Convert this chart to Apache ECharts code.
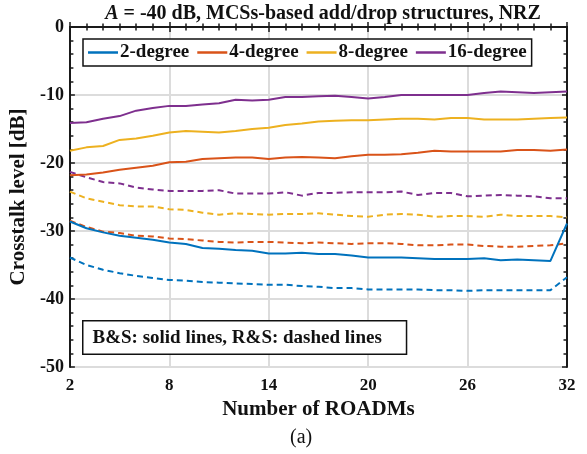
<!DOCTYPE html>
<html><head><meta charset="utf-8">
<script src="https://cdn.jsdelivr.net/npm/echarts@6/dist/echarts.min.js"></script>
<style>html,body{margin:0;padding:0;background:#fff}#c{width:587px;height:454px}</style>
</head><body><div id="c"></div>
<script>
const roadms = [2,3,4,5,6,7,8,9,10,11,12,13,14,15,16,17,18,19,20,21,22,23,24,25,26,27,28,29,30,31,32];
const seriesNames = ['2-degree','4-degree','8-degree','16-degree'];
const xTicks = [2,8,14,20,26,32];
const yTicks = [-50,-40,-30,-20,-10,0];

const bsDeg2 = [-28.6,-29.6,-30.2,-30.7,-31.0,-31.3,-31.7,-31.9,-32.5,-32.6,-32.8,-32.9,-33.3,-33.3,-33.2,-33.4,-33.4,-33.6,-33.9,-33.9,-33.9,-34.0,-34.1,-34.1,-34.1,-34.0,-34.3,-34.2,-34.3,-34.4,-28.9];
const rsDeg2 = [-33.9,-35.0,-35.7,-36.2,-36.6,-36.9,-37.2,-37.3,-37.5,-37.6,-37.7,-37.8,-37.9,-37.9,-38.1,-38.2,-38.4,-38.4,-38.6,-38.6,-38.6,-38.6,-38.7,-38.7,-38.8,-38.7,-38.7,-38.7,-38.7,-38.7,-36.8];
const bsDeg4 = [-21.8,-21.7,-21.4,-21.0,-20.7,-20.4,-19.9,-19.8,-19.4,-19.3,-19.2,-19.2,-19.4,-19.2,-19.1,-19.2,-19.3,-19.0,-18.8,-18.8,-18.7,-18.5,-18.2,-18.3,-18.3,-18.3,-18.3,-18.1,-18.1,-18.2,-18.0];
const rsDeg4 = [-28.5,-29.4,-30.1,-30.3,-30.7,-30.8,-31.1,-31.2,-31.4,-31.6,-31.7,-31.6,-31.6,-31.7,-31.8,-31.7,-31.8,-31.9,-31.8,-31.8,-31.9,-32.1,-32.1,-32.0,-32.0,-32.2,-32.3,-32.3,-32.2,-32.1,-31.8];
const bsDeg8 = [-18.2,-17.7,-17.5,-16.6,-16.4,-16.0,-15.5,-15.3,-15.4,-15.5,-15.3,-15.0,-14.8,-14.4,-14.2,-13.9,-13.8,-13.7,-13.7,-13.6,-13.5,-13.5,-13.6,-13.4,-13.4,-13.6,-13.6,-13.6,-13.5,-13.4,-13.3];
const rsDeg8 = [-24.2,-25.2,-25.7,-26.2,-26.4,-26.4,-26.8,-26.9,-27.3,-27.6,-27.4,-27.5,-27.6,-27.5,-27.5,-27.4,-27.6,-27.8,-27.9,-27.6,-27.5,-27.6,-27.9,-27.8,-27.8,-27.9,-27.6,-27.8,-27.8,-27.8,-28.0];
const bsDeg16 = [-14.1,-14.0,-13.5,-13.1,-12.3,-11.9,-11.6,-11.6,-11.4,-11.2,-10.7,-10.8,-10.7,-10.3,-10.3,-10.2,-10.1,-10.3,-10.5,-10.3,-10.0,-10.0,-10.0,-10.0,-10.0,-9.7,-9.5,-9.6,-9.7,-9.6,-9.5];
const rsDeg16 = [-21.3,-22.1,-22.8,-23.0,-23.6,-23.9,-24.1,-24.1,-24.1,-24.0,-24.5,-24.5,-24.5,-24.3,-24.8,-24.4,-24.4,-24.3,-24.3,-24.3,-24.2,-24.7,-24.4,-24.4,-24.9,-24.8,-24.7,-24.8,-24.9,-25.2,-25.2];

const colors = ['#0072BD','#D95319','#EDB120','#7E2F8E'];
const bsData = [bsDeg2, bsDeg4, bsDeg8, bsDeg16];
const rsData = [rsDeg2, rsDeg4, rsDeg8, rsDeg16];
const FONT = '"Liberation Serif", "Times New Roman", serif';

const pair = arr => roadms.map((x,i)=>[x,arr[i]]);
const series = [];
for (let k=0;k<4;k++){
  series.push({name: seriesNames[k], type:'line', data: pair(bsData[k]), showSymbol:false, symbol:'none',
    lineStyle:{color:colors[k], width:2}, itemStyle:{color:colors[k]}, z:3});
}
for (let k=0;k<4;k++){
  series.push({name: seriesNames[k]+' R&S', type:'line', data: pair(rsData[k]), showSymbol:false, symbol:'none',
    lineStyle:{color:colors[k], width:2, type:[6,4]}, itemStyle:{color:colors[k]}, z:2});
}

const chart = echarts.init(document.getElementById('c'), null, {renderer:'canvas'});
const axisCommon = {
  axisLine:{show:true, lineStyle:{color:'#1a1a1a', width:2}},
  axisTick:{show:true, inside:true, length:5, lineStyle:{color:'#1a1a1a', width:1.5}}
};
chart.setOption({
  animation:false,
  backgroundColor:'#fff',
  title:{
    text:'{i|A} = -40 dB, MCSs-based add/drop structures, NRZ',
    left:318, top:-1, textAlign:'center',
    textStyle:{fontFamily:FONT, fontWeight:'bold', fontSize:20, color:'#111',
      rich:{i:{fontFamily:FONT, fontWeight:'bold', fontStyle:'italic', fontSize:20, color:'#111'}}}
  },
  grid:{left:69, right:20, top:27, bottom:87, containLabel:false},
  legend:{
    data:seriesNames, left:83, top:39,
    orient:'horizontal', icon:'rect', itemWidth:30, itemHeight:2.5, itemGap:8,
    padding:[4,5,4,5], borderColor:'#111', borderWidth:1.5, backgroundColor:'#fff',
    textStyle:{fontFamily:FONT, fontWeight:'bold', fontSize:19, color:'#111', padding:[0,0,0,-3]}
  },
  xAxis:[
    Object.assign({type:'value', min:xTicks[0], max:xTicks[xTicks.length-1], interval:6, position:'bottom',
      name:'Number of ROADMs', nameLocation:'middle', nameGap:30,
      nameTextStyle:{fontFamily:FONT, fontWeight:'bold', fontSize:21, color:'#111'},
      axisLabel:{fontFamily:FONT, fontWeight:'bold', fontSize:17, color:'#111', margin:10},
      splitLine:{show:true, lineStyle:{color:'#dcdcdc', width:2}}}, axisCommon,
      {minorTick:{show:true, splitNumber:6, length:3.5, lineStyle:{color:'#1a1a1a', width:1.5}}}),
    Object.assign({type:'value', min:xTicks[0], max:xTicks[xTicks.length-1], interval:6, position:'top',
      axisLabel:{show:false}, splitLine:{show:false}}, axisCommon,
      {minorTick:{show:true, splitNumber:6, length:3.5, lineStyle:{color:'#1a1a1a', width:1.5}}})
  ],
  yAxis:[
    Object.assign({type:'value', min:yTicks[0], max:yTicks[yTicks.length-1], interval:10, position:'left',
      name:'Crosstalk level [dB]', nameLocation:'middle', nameGap:36, nameRotate:90,
      nameTextStyle:{fontFamily:FONT, fontWeight:'bold', fontSize:21, color:'#111'},
      axisLabel:{fontFamily:FONT, fontWeight:'bold', fontSize:18, color:'#111', margin:6},
      splitLine:{show:true, lineStyle:{color:'#dcdcdc', width:2}}}, axisCommon,
      {minorTick:{show:true, splitNumber:5, length:3.5, lineStyle:{color:'#1a1a1a', width:1.5}}}),
    Object.assign({type:'value', min:yTicks[0], max:yTicks[yTicks.length-1], interval:10, position:'right',
      axisLabel:{show:false}, splitLine:{show:false}}, axisCommon,
      {minorTick:{show:true, splitNumber:5, length:3.5, lineStyle:{color:'#1a1a1a', width:1.5}}})
  ],
  series: series,
  graphic:[
    {type:'text', left:82, top:320, z:10,
      style:{text:'B&S: solid lines, R&S: dashed lines', font:'bold 19px '+FONT, fill:'#111',
        backgroundColor:'#fff', borderColor:'#111', borderWidth:1.5, padding:[7,24,6,9]}},
    {type:'text', left:290, top:428, z:10,
      style:{text:'(a)', font:'20px '+FONT, fill:'#111'}}
  ]
});
</script></body></html>
